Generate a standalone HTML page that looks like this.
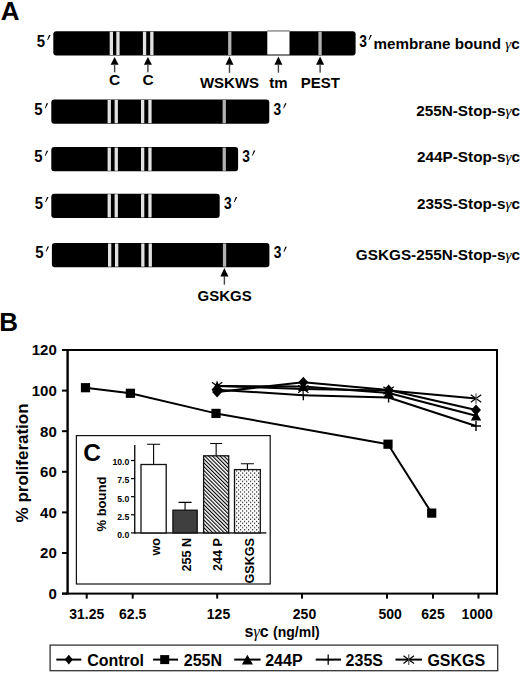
<!DOCTYPE html>
<html><head><meta charset="utf-8"><style>
html,body{margin:0;padding:0;background:#fff;}
svg{display:block;font-family:"Liberation Sans", sans-serif;}
</style></head><body>
<svg width="520" height="673" viewBox="0 0 520 673">
<rect width="520" height="673" fill="#fff"/>
<text x="0.8" y="19.6" font-size="26" font-weight="bold" text-anchor="start" >A</text>
<rect x="53.3" y="31.2" width="302.3" height="24.3" rx="3" fill="#000"/>
<rect x="109.7" y="31.7" width="3.3" height="23.3" fill="#e2e2e2"/>
<rect x="116.3" y="31.7" width="3.3" height="23.3" fill="#e2e2e2"/>
<rect x="142.9" y="31.7" width="3.3" height="23.3" fill="#e2e2e2"/>
<rect x="150.2" y="31.7" width="3.3" height="23.3" fill="#e2e2e2"/>
<rect x="228.1" y="31.7" width="3.3" height="23.3" fill="#b2b2b2"/>
<rect x="318.4" y="31.7" width="3.3" height="23.3" fill="#b2b2b2"/>
<rect x="267.3" y="30.2" width="22.2" height="1.3" fill="#8a8a8a"/>
<rect x="267.3" y="31.5" width="22.2" height="23" fill="#fff"/>
<rect x="51.3" y="99.4" width="218.0" height="24.299999999999997" rx="3" fill="#000"/>
<rect x="107.6" y="99.9" width="3.3" height="23.299999999999997" fill="#e2e2e2"/>
<rect x="114.6" y="99.9" width="3.3" height="23.299999999999997" fill="#e2e2e2"/>
<rect x="141.0" y="99.9" width="3.3" height="23.299999999999997" fill="#e2e2e2"/>
<rect x="148.3" y="99.9" width="3.3" height="23.299999999999997" fill="#e2e2e2"/>
<rect x="222.6" y="99.9" width="3.3" height="23.299999999999997" fill="#b2b2b2"/>
<rect x="51.3" y="147.1" width="186.8" height="24.200000000000017" rx="3" fill="#000"/>
<rect x="107.6" y="147.6" width="3.3" height="23.200000000000017" fill="#e2e2e2"/>
<rect x="114.6" y="147.6" width="3.3" height="23.200000000000017" fill="#e2e2e2"/>
<rect x="141.0" y="147.6" width="3.3" height="23.200000000000017" fill="#e2e2e2"/>
<rect x="148.3" y="147.6" width="3.3" height="23.200000000000017" fill="#e2e2e2"/>
<rect x="222.6" y="147.6" width="3.3" height="23.200000000000017" fill="#b2b2b2"/>
<rect x="51.3" y="193.7" width="168.39999999999998" height="24.200000000000017" rx="3" fill="#000"/>
<rect x="107.6" y="194.2" width="3.3" height="23.200000000000017" fill="#e2e2e2"/>
<rect x="114.6" y="194.2" width="3.3" height="23.200000000000017" fill="#e2e2e2"/>
<rect x="141.0" y="194.2" width="3.3" height="23.200000000000017" fill="#e2e2e2"/>
<rect x="148.3" y="194.2" width="3.3" height="23.200000000000017" fill="#e2e2e2"/>
<rect x="51.9" y="243.0" width="217.49999999999997" height="24.19999999999999" rx="3" fill="#000"/>
<rect x="108.0" y="243.5" width="3.3" height="23.19999999999999" fill="#e2e2e2"/>
<rect x="115.0" y="243.5" width="3.3" height="23.19999999999999" fill="#e2e2e2"/>
<rect x="141.2" y="243.5" width="3.3" height="23.19999999999999" fill="#e2e2e2"/>
<rect x="148.6" y="243.5" width="3.3" height="23.19999999999999" fill="#e2e2e2"/>
<rect x="222.9" y="243.5" width="3.3" height="23.19999999999999" fill="#b2b2b2"/>
<polygon points="114.6,57.0 110.6,64.8 118.6,64.8" fill="#000"/>
<rect x="113.89999999999999" y="64.1" width="1.4" height="8.200000000000003" fill="#444"/>
<polygon points="147.9,57.0 143.9,64.8 151.9,64.8" fill="#000"/>
<rect x="147.20000000000002" y="64.1" width="1.4" height="8.200000000000003" fill="#444"/>
<polygon points="229.5,56.6 225.5,64.8 233.5,64.8" fill="#000"/>
<rect x="228.8" y="64.1" width="1.4" height="8.800000000000011" fill="#444"/>
<polygon points="278.4,56.6 274.4,64.8 282.4,64.8" fill="#000"/>
<rect x="277.7" y="64.1" width="1.4" height="8.600000000000009" fill="#444"/>
<polygon points="320.1,56.6 316.1,64.8 324.1,64.8" fill="#000"/>
<rect x="319.40000000000003" y="64.1" width="1.4" height="8.600000000000009" fill="#444"/>
<polygon points="224.4,268.0 220.4,276.5 228.4,276.5" fill="#000"/>
<rect x="223.70000000000002" y="275.8" width="1.4" height="8.800000000000011" fill="#444"/>
<text x="114.5" y="85.0" font-size="15.5" font-weight="bold" text-anchor="middle" >C</text>
<text x="148.0" y="85.0" font-size="15.5" font-weight="bold" text-anchor="middle" >C</text>
<text x="229.5" y="87.5" font-size="15" font-weight="bold" text-anchor="middle" >WSKWS</text>
<text x="278.5" y="87.5" font-size="15" font-weight="bold" text-anchor="middle" >tm</text>
<text x="320.3" y="87.5" font-size="15" font-weight="bold" text-anchor="middle" >PEST</text>
<text x="224.6" y="300.6" font-size="15" font-weight="bold" text-anchor="middle" >GSKGS</text>
<text transform="translate(36.70,46.7) scale(0.93,1)" font-size="16" font-weight="bold">5</text>
<polygon points="49.0,35.1 50.6,35.1 48.0,40.1 47.2,40.1" fill="#000"/>
<text transform="translate(34.30,114.9) scale(0.93,1)" font-size="16" font-weight="bold">5</text>
<polygon points="46.599999999999994,103.30000000000001 48.199999999999996,103.30000000000001 45.599999999999994,108.30000000000001 44.8,108.30000000000001" fill="#000"/>
<text transform="translate(34.30,162.4) scale(0.93,1)" font-size="16" font-weight="bold">5</text>
<polygon points="46.599999999999994,150.8 48.199999999999996,150.8 45.599999999999994,155.8 44.8,155.8" fill="#000"/>
<text transform="translate(34.70,208.7) scale(0.93,1)" font-size="16" font-weight="bold">5</text>
<polygon points="47.0,197.1 48.6,197.1 46.0,202.1 45.2,202.1" fill="#000"/>
<text transform="translate(35.20,258.2) scale(0.93,1)" font-size="16" font-weight="bold">5</text>
<polygon points="47.5,246.6 49.1,246.6 46.5,251.6 45.7,251.6" fill="#000"/>
<text transform="translate(359.30,46.5) scale(0.86,1)" font-size="16" font-weight="bold">3</text>
<polygon points="370.3,34.9 371.9,34.9 369.3,39.9 368.5,39.9" fill="#000"/>
<text transform="translate(273.40,114.9) scale(0.86,1)" font-size="16" font-weight="bold">3</text>
<polygon points="285.0,103.30000000000001 286.59999999999997,103.30000000000001 284.0,108.30000000000001 283.2,108.30000000000001" fill="#000"/>
<text transform="translate(242.20,162.0) scale(0.86,1)" font-size="16" font-weight="bold">3</text>
<polygon points="253.8,150.4 255.4,150.4 252.8,155.4 252.0,155.4" fill="#000"/>
<text transform="translate(224.10,208.5) scale(0.86,1)" font-size="16" font-weight="bold">3</text>
<polygon points="235.70000000000002,196.9 237.3,196.9 234.70000000000002,201.9 233.9,201.9" fill="#000"/>
<text transform="translate(273.70,258.4) scale(0.86,1)" font-size="16" font-weight="bold">3</text>
<polygon points="285.3,246.79999999999998 286.9,246.79999999999998 284.3,251.79999999999998 283.5,251.79999999999998" fill="#000"/>
<text x="373.6" y="48.8" font-size="15.2" font-weight="bold" text-anchor="start" >membrane bound <tspan font-weight="normal" font-style="italic" font-family="'Liberation Serif', serif">&#947;</tspan>c</text>
<text x="520" y="116.0" font-size="15.3" font-weight="bold" text-anchor="end" >255N-Stop-s<tspan font-weight="normal" font-style="italic" font-family="'Liberation Serif', serif">&#947;</tspan>c</text>
<text x="520" y="162.2" font-size="15.3" font-weight="bold" text-anchor="end" >244P-Stop-s<tspan font-weight="normal" font-style="italic" font-family="'Liberation Serif', serif">&#947;</tspan>c</text>
<text x="520" y="208.6" font-size="15.3" font-weight="bold" text-anchor="end" >235S-Stop-s<tspan font-weight="normal" font-style="italic" font-family="'Liberation Serif', serif">&#947;</tspan>c</text>
<text x="520" y="259.5" font-size="15.3" font-weight="bold" text-anchor="end" >GSKGS-255N-Stop-s<tspan font-weight="normal" font-style="italic" font-family="'Liberation Serif', serif">&#947;</tspan>c</text>
<text x="-0.7" y="330.8" font-size="26" font-weight="bold" text-anchor="start" >B</text>
<rect x="62" y="349" width="436" height="2" fill="#000"/>
<rect x="496" y="349" width="2" height="245.6" fill="#000"/>
<rect x="62" y="592.6" width="436" height="2" fill="#000"/>
<rect x="66.4" y="349" width="2.4" height="245.6" fill="#000"/>
<rect x="62" y="592.60" width="5" height="2" fill="#000"/>
<text x="56.8" y="599.0" font-size="15" font-weight="bold" text-anchor="end" >0</text>
<rect x="62" y="552.00" width="5" height="2" fill="#000"/>
<text x="56.8" y="558.4" font-size="15" font-weight="bold" text-anchor="end" >20</text>
<rect x="62" y="511.40" width="5" height="2" fill="#000"/>
<text x="56.8" y="517.8" font-size="15" font-weight="bold" text-anchor="end" >40</text>
<rect x="62" y="470.80" width="5" height="2" fill="#000"/>
<text x="56.8" y="477.2" font-size="15" font-weight="bold" text-anchor="end" >60</text>
<rect x="62" y="430.20" width="5" height="2" fill="#000"/>
<text x="56.8" y="436.6" font-size="15" font-weight="bold" text-anchor="end" >80</text>
<rect x="62" y="389.60" width="5" height="2" fill="#000"/>
<text x="56.8" y="396.0" font-size="15" font-weight="bold" text-anchor="end" >100</text>
<rect x="62" y="349.00" width="5" height="2" fill="#000"/>
<text x="56.8" y="355.4" font-size="15" font-weight="bold" text-anchor="end" >120</text>
<rect x="85.7" y="593" width="2" height="5.6" fill="#000"/>
<rect x="131.7" y="593" width="2" height="5.6" fill="#000"/>
<rect x="216.2" y="593" width="2" height="5.6" fill="#000"/>
<rect x="301.0" y="593" width="2" height="5.6" fill="#000"/>
<rect x="386.0" y="593" width="2" height="5.6" fill="#000"/>
<rect x="432.0" y="593" width="2" height="5.6" fill="#000"/>
<rect x="477.5" y="593" width="2" height="5.6" fill="#000"/>
<text x="86.7" y="619.3" font-size="14" font-weight="bold" text-anchor="middle" >31.25</text>
<text x="132.7" y="619.3" font-size="14" font-weight="bold" text-anchor="middle" >62.5</text>
<text x="218.5" y="619.3" font-size="14" font-weight="bold" text-anchor="middle" >125</text>
<text x="304.5" y="619.3" font-size="14" font-weight="bold" text-anchor="middle" >250</text>
<text x="390.2" y="619.3" font-size="14" font-weight="bold" text-anchor="middle" >500</text>
<text x="433" y="619.3" font-size="14" font-weight="bold" text-anchor="middle" >625</text>
<text x="477.2" y="619.3" font-size="14" font-weight="bold" text-anchor="middle" >1000</text>
<text x="0" y="0" font-size="17" font-weight="bold" text-anchor="middle" transform="translate(27.8,462.9) rotate(-90)">% proliferation</text>
<text x="244.5" y="636.5" font-size="16" font-weight="bold" text-anchor="start" >s<tspan font-weight="normal" font-style="italic" font-family="'Liberation Serif', serif">&#947;</tspan>c <tspan font-size="14">(ng/ml)</tspan></text>
<polyline points="85.5,387.7 130.4,393.3 216.0,413.4 388.0,444.2 431.7,513.1" fill="none" stroke="#000" stroke-width="2" stroke-linejoin="round"/>
<polyline points="217.1,392.0 303.3,382.3 388.6,390.1 476.0,410.0" fill="none" stroke="#000" stroke-width="2" stroke-linejoin="round"/>
<polyline points="217.1,386.0 303.3,386.5 388.6,393.0 476.0,415.8" fill="none" stroke="#000" stroke-width="2" stroke-linejoin="round"/>
<polyline points="217.1,389.8 303.3,395.2 388.6,397.5 476.0,426.0" fill="none" stroke="#000" stroke-width="2" stroke-linejoin="round"/>
<polyline points="217.1,386.0 303.3,389.0 388.6,390.6 476.0,398.6" fill="none" stroke="#000" stroke-width="2" stroke-linejoin="round"/>
<rect x="80.90" y="383.10" width="9.2" height="9.2" fill="#000"/>
<rect x="125.80" y="388.70" width="9.2" height="9.2" fill="#000"/>
<rect x="211.40" y="408.80" width="9.2" height="9.2" fill="#000"/>
<rect x="383.40" y="439.60" width="9.2" height="9.2" fill="#000"/>
<rect x="427.10" y="508.50" width="9.2" height="9.2" fill="#000"/>
<path d="M212.1,389.8H222.1M217.1,384.8V394.8" stroke="#000" stroke-width="1.4" fill="none"/>
<path d="M298.3,395.2H308.3M303.3,390.2V400.2" stroke="#000" stroke-width="1.4" fill="none"/>
<path d="M383.6,397.5H393.6M388.6,392.5V402.5" stroke="#000" stroke-width="1.4" fill="none"/>
<path d="M471.0,426.0H481.0M476.0,421.0V431.0" stroke="#000" stroke-width="1.4" fill="none"/>
<path d="M211.9,382.256L222.29999999999998,389.744M211.9,389.744L222.29999999999998,382.256" stroke="#000" stroke-width="1.2" fill="none"/>
<path d="M217.1,380.8V391.2" stroke="#555" stroke-width="1.2" fill="none"/>
<path d="M298.1,385.256L308.5,392.744M298.1,392.744L308.5,385.256" stroke="#000" stroke-width="1.2" fill="none"/>
<path d="M303.3,383.8V394.2" stroke="#555" stroke-width="1.2" fill="none"/>
<path d="M383.40000000000003,386.856L393.8,394.34400000000005M383.40000000000003,394.34400000000005L393.8,386.856" stroke="#000" stroke-width="1.2" fill="none"/>
<path d="M388.6,385.40000000000003V395.8" stroke="#555" stroke-width="1.2" fill="none"/>
<path d="M470.8,394.856L481.2,402.34400000000005M470.8,402.34400000000005L481.2,394.856" stroke="#000" stroke-width="1.2" fill="none"/>
<path d="M476.0,393.40000000000003V403.8" stroke="#555" stroke-width="1.2" fill="none"/>
<polygon points="217.1,381.4 222.29999999999998,390.6 211.9,390.6" fill="#000"/>
<polygon points="303.3,381.9 308.5,391.1 298.1,391.1" fill="#000"/>
<polygon points="388.6,388.4 393.8,397.6 383.40000000000003,397.6" fill="#000"/>
<polygon points="476.0,411.2 481.2,420.40000000000003 470.8,420.40000000000003" fill="#000"/>
<polygon points="217.1,386.4 222.1,392.0 217.1,397.6 212.1,392.0" fill="#000"/>
<polygon points="303.3,376.7 308.3,382.3 303.3,387.90000000000003 298.3,382.3" fill="#000"/>
<polygon points="388.6,384.5 393.6,390.1 388.6,395.70000000000005 383.6,390.1" fill="#000"/>
<polygon points="476.0,404.4 481.0,410.0 476.0,415.6 471.0,410.0" fill="#000"/>
<rect x="76.4" y="435.6" width="193.8" height="148.4" fill="#fff" stroke="#111" stroke-width="1.2"/>
<text x="83.3" y="460.7" font-size="24.5" font-weight="bold" text-anchor="start" >C</text>
<rect x="134.1" y="445" width="1.3" height="88.5" fill="#000"/>
<rect x="134.1" y="532.3" width="132.2" height="1.3" fill="#000"/>
<rect x="131" y="532.30" width="3.5" height="1.2" fill="#000"/>
<text x="129.3" y="537.7" font-size="8.7" font-weight="bold" text-anchor="end" >0.0</text>
<rect x="131" y="514.20" width="3.5" height="1.2" fill="#000"/>
<text x="129.3" y="519.6" font-size="8.7" font-weight="bold" text-anchor="end" >2.5</text>
<rect x="131" y="496.10" width="3.5" height="1.2" fill="#000"/>
<text x="129.3" y="501.5" font-size="8.7" font-weight="bold" text-anchor="end" >5.0</text>
<rect x="131" y="478.00" width="3.5" height="1.2" fill="#000"/>
<text x="129.3" y="483.4" font-size="8.7" font-weight="bold" text-anchor="end" >7.5</text>
<rect x="131" y="459.90" width="3.5" height="1.2" fill="#000"/>
<text x="129.3" y="465.3" font-size="8.7" font-weight="bold" text-anchor="end" >10.0</text>
<text x="0" y="0" font-size="13" font-weight="bold" text-anchor="middle" transform="translate(106.2,504.1) rotate(-90)">% bound</text>
<defs>
<pattern id="hatch" width="2.7" height="4" patternUnits="userSpaceOnUse" patternTransform="rotate(-45)">
<rect width="2.7" height="4" fill="#fff"/><rect x="0" y="0" width="1.1" height="4" fill="#000"/></pattern>
<pattern id="dots" width="4" height="4.2" patternUnits="userSpaceOnUse" x="0" y="0">
<rect width="4" height="4.2" fill="#fff"/><rect x="0" y="0" width="1.2" height="1.2" fill="#222"/><rect x="2" y="2.1" width="1.2" height="1.2" fill="#222"/></pattern>
</defs>
<path d="M153.6,464.5V444.3M147.1,444.3H160.1" stroke="#000" stroke-width="1.1" fill="none"/>
<rect x="141.0" y="464.5" width="25.19999999999999" height="68.39999999999998" fill="#fff" stroke="#111" stroke-width="1.3"/>
<path d="M185.05,510.2V502.4M178.55,502.4H191.55" stroke="#000" stroke-width="1.1" fill="none"/>
<rect x="172.9" y="510.2" width="24.299999999999983" height="22.69999999999999" fill="#3f3f3f" stroke="#111" stroke-width="1.3"/>
<path d="M216.14999999999998,455.8V443.5M210.14999999999998,443.5H222.14999999999998" stroke="#000" stroke-width="1.1" fill="none"/>
<rect x="203.6" y="455.8" width="25.099999999999994" height="77.09999999999997" fill="url(#hatch)" stroke="#111" stroke-width="1.3"/>
<path d="M247.4,469.6V463.8M240.9,463.8H253.9" stroke="#000" stroke-width="1.1" fill="none"/>
<rect x="234.5" y="469.6" width="25.80000000000001" height="63.299999999999955" fill="url(#dots)" stroke="#111" stroke-width="1.3"/>
<text x="0" y="0" font-size="12.6" font-weight="bold" text-anchor="end" transform="translate(159.5,538) rotate(-90)">wo</text>
<text x="0" y="0" font-size="12.6" font-weight="bold" text-anchor="end" transform="translate(191.4,538) rotate(-90)">255 N</text>
<text x="0" y="0" font-size="12.6" font-weight="bold" text-anchor="end" transform="translate(221.7,538) rotate(-90)">244 P</text>
<text x="0" y="0" font-size="12.6" font-weight="bold" text-anchor="end" transform="translate(253.7,538) rotate(-90)">GSKGS</text>
<rect x="50.1" y="645.1" width="447.6" height="25.6" fill="none" stroke="#333" stroke-width="1.3"/>
<rect x="56.3" y="658.6" width="25.0" height="2" fill="#000"/>
<polygon points="68.8,654.7 72.8,659.6 68.8,664.5 64.8,659.6" fill="#000"/>
<rect x="153.1" y="658.6" width="25.0" height="2" fill="#000"/>
<rect x="160.20" y="655.10" width="9" height="9" fill="#000"/>
<rect x="234.2" y="658.6" width="26.400000000000034" height="2" fill="#000"/>
<polygon points="247.4,654.8000000000001 252.9,664.4 241.9,664.4" fill="#000"/>
<rect x="315.7" y="658.6" width="25.30000000000001" height="2" fill="#000"/>
<path d="M323.0,659.6H333.4M328.2,654.4V664.8000000000001" stroke="#000" stroke-width="1.3" fill="none"/>
<rect x="395.5" y="658.6" width="26.5" height="2" fill="#000"/>
<path d="M403.45,655.784L414.05,663.416M403.45,663.416L414.05,655.784" stroke="#000" stroke-width="1.2" fill="none"/>
<path d="M408.75,654.3000000000001V664.9" stroke="#555" stroke-width="1.2" fill="none"/>
<text x="87.2" y="665.8" font-size="16" font-weight="bold" text-anchor="start" >Control</text>
<text x="183.8" y="665.8" font-size="16" font-weight="bold" text-anchor="start" >255N</text>
<text x="265.2" y="665.8" font-size="16" font-weight="bold" text-anchor="start" >244P</text>
<text x="345.6" y="665.8" font-size="16" font-weight="bold" text-anchor="start" >235S</text>
<text x="427.4" y="665.8" font-size="16" font-weight="bold" text-anchor="start" >GSKGS</text>
</svg>
</body></html>
